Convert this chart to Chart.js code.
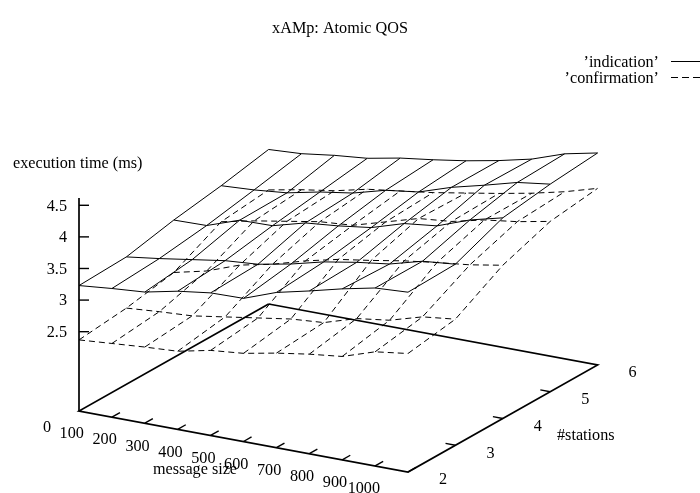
<!DOCTYPE html>
<html>
<head>
<meta charset="utf-8">
<title>xAMp: Atomic QOS</title>
<script src="https://cdn.jsdelivr.net/npm/chart.js@4"></script>
<style>
html, body { margin: 0; padding: 0; background: #fff; }
canvas { display: block; }
</style>
</head>
<body>
<canvas id="mycanvas" width="700" height="493"></canvas>
<script>
var messageSizes = [0, 100, 200, 300, 400, 500, 600, 700, 800, 900, 1000];
var stations = [2, 3, 4, 5, 6];
var timeTicks = [2.5, 3, 3.5, 4, 4.5];

// execution time (ms), one list per number of stations
var indication2 = [3.23, 3.28, 3.32, 3.43, 3.50, 3.51, 3.70, 3.82, 3.95, 4.06, 4.09];
var indication3 = [3.26, 3.33, 3.41, 3.49, 3.53, 3.63, 3.76, 3.85, 3.92, 4.06, 4.11];
var indication4 = [3.42, 3.43, 3.61, 3.62, 3.76, 3.81, 3.88, 4.04, 4.10, 4.29, 4.42];
var indication5 = [3.54, 3.57, 3.62, 3.73, 3.81, 3.95, 4.02, 4.19, 4.32, 4.46, 4.53];
var indication6 = [3.69, 3.72, 3.79, 3.84, 3.94, 4.01, 4.09, 4.19, 4.31, 4.49, 4.60];

var confirmation2 = [2.37, 2.41, 2.45, 2.48, 2.59, 2.64, 2.74, 2.82, 2.88, 3.05, 3.12];
var confirmation3 = [2.45, 2.49, 2.52, 2.60, 2.68, 2.76, 2.80, 2.96, 3.03, 3.18, 3.24];
var confirmation4 = [2.59, 2.71, 2.90, 3.01, 3.16, 3.28, 3.36, 3.45, 3.52, 3.58, 3.67];
var confirmation5 = [2.97, 3.08, 3.17, 3.26, 3.30, 3.45, 3.60, 3.65, 3.77, 3.84, 3.94];
var confirmation6 = [3.05, 3.15, 3.23, 3.35, 3.42, 3.49, 3.58, 3.67, 3.77, 3.89, 4.04];

var indication = [indication2, indication3, indication4, indication5, indication6];
var confirmation = [confirmation2, confirmation3, confirmation4, confirmation5, confirmation6];

// 3d view, gnuplot style: base corner on screen plus one vector per axis
var originX = 79, originY = 411;
var sizeDx = 0.329, sizeDy = 0.061;    // per unit of message size
var stationDx = 47.4, stationDy = -26.75; // per station
var timeDy = -63.2;                    // per ms
var timeBase = 1.245;                  // time at the floor of the box
var timeTop = 4.615;

function project(size, station, time) {
    var s = station - stations[0];
    return {
        x: originX + size * sizeDx + s * stationDx,
        y: originY + size * sizeDy + s * stationDy + (time - timeBase) * timeDy
    };
}

var datasets = [];

function addLine(points, width, dash) {
    datasets.push({
        data: points,
        showLine: true,
        borderColor: '#000',
        borderWidth: width,
        borderDash: dash || [],
        pointRadius: 0,
        tension: 0,
        fill: false
    });
}

function addSurface(rows, dash) {
    for (var j = 0; j < stations.length; j++) {
        var row = [];
        for (var i = 0; i < messageSizes.length; i++) {
            row.push(project(messageSizes[i], stations[j], rows[j][i]));
        }
        addLine(row, 1, dash);
    }
    for (var i = 0; i < messageSizes.length; i++) {
        var col = [];
        for (var j = 0; j < stations.length; j++) {
            col.push(project(messageSizes[i], stations[j], rows[j][i]));
        }
        addLine(col, 1, dash);
    }
}

var firstSize = messageSizes[0], lastSize = messageSizes[messageSizes.length - 1];
var firstSt = stations[0], lastSt = stations[stations.length - 1];

// floor of the box
addLine([project(firstSize, lastSt, timeBase), project(firstSize, firstSt, timeBase), project(lastSize, firstSt, timeBase),
         project(lastSize, lastSt, timeBase), project(firstSize, lastSt, timeBase)], 1.7);
// time axis
addLine([project(firstSize, firstSt, timeBase), project(firstSize, firstSt, timeTop)], 1.7);

// ticks
messageSizes.slice(1).forEach(function(m) {
    addLine([project(m, firstSt, timeBase), project(m, firstSt + 0.17, timeBase)], 1.4);
});
stations.slice(1, -1).forEach(function(s) {
    addLine([project(lastSize, s, timeBase), project(lastSize - 30, s, timeBase)], 1.4);
});
timeTicks.forEach(function(t) {
    var a = project(firstSize, firstSt, t);
    addLine([a, { x: a.x + 10, y: a.y }], 1.4);
});

addSurface(indication);
addSurface(confirmation, [6, 4]);

var labelsPlugin = {
    id: 'gnuplotLabels',
    afterDraw: function(chart) {
        var ctx = chart.ctx;
        var sx = chart.scales.x, sy = chart.scales.y;
        function put(text, x, y, align) {
            ctx.textAlign = align || 'left';
            ctx.fillText(text, sx.getPixelForValue(x), sy.getPixelForValue(y));
        }
        ctx.save();
        ctx.font = '16.2px "Liberation Serif", serif';
        ctx.fillStyle = '#000';
        ctx.textBaseline = 'middle';

        put('xAMp: Atomic QOS', 340, 29, 'center');
        put('’indication’', 659, 63, 'right');
        put('’confirmation’', 659, 79, 'right');
        put('execution time (ms)', 13, 164);
        put('message size', 153, 470);
        put('#stations', 557, 436);

        messageSizes.forEach(function(m) {
            var p = project(m, firstSt, timeBase);
            put(String(m), p.x - 28, p.y + 17, 'right');
        });
        stations.forEach(function(s) {
            var p = project(lastSize, s, timeBase);
            put(String(s), p.x + 31, p.y + 8);
        });
        timeTicks.forEach(function(t) {
            var p = project(firstSize, firstSt, t);
            put(String(t), 67, p.y + 1, 'right');
        });

        // legend samples
        ctx.strokeStyle = '#000';
        ctx.lineWidth = 1;
        ctx.beginPath();
        ctx.moveTo(671, 61.5);
        ctx.lineTo(700, 61.5);
        ctx.stroke();
        ctx.setLineDash([7, 4]);
        ctx.beginPath();
        ctx.moveTo(671, 77.5);
        ctx.lineTo(700, 77.5);
        ctx.stroke();
        ctx.restore();
    }
};

var ctx = document.getElementById('mycanvas');
var chart3d = new Chart(ctx, {
    type: 'scatter',
    data: { datasets: datasets },
    options: {
        responsive: false,
        animation: false,
        layout: { padding: 0 },
        plugins: { legend: { display: false }, tooltip: { enabled: false } },
        scales: {
            x: { type: 'linear', display: false, min: 0, max: 700 },
            y: { type: 'linear', display: false, min: 0, max: 493, reverse: true }
        }
    },
    plugins: [labelsPlugin]
});
</script>
</body>
</html>
